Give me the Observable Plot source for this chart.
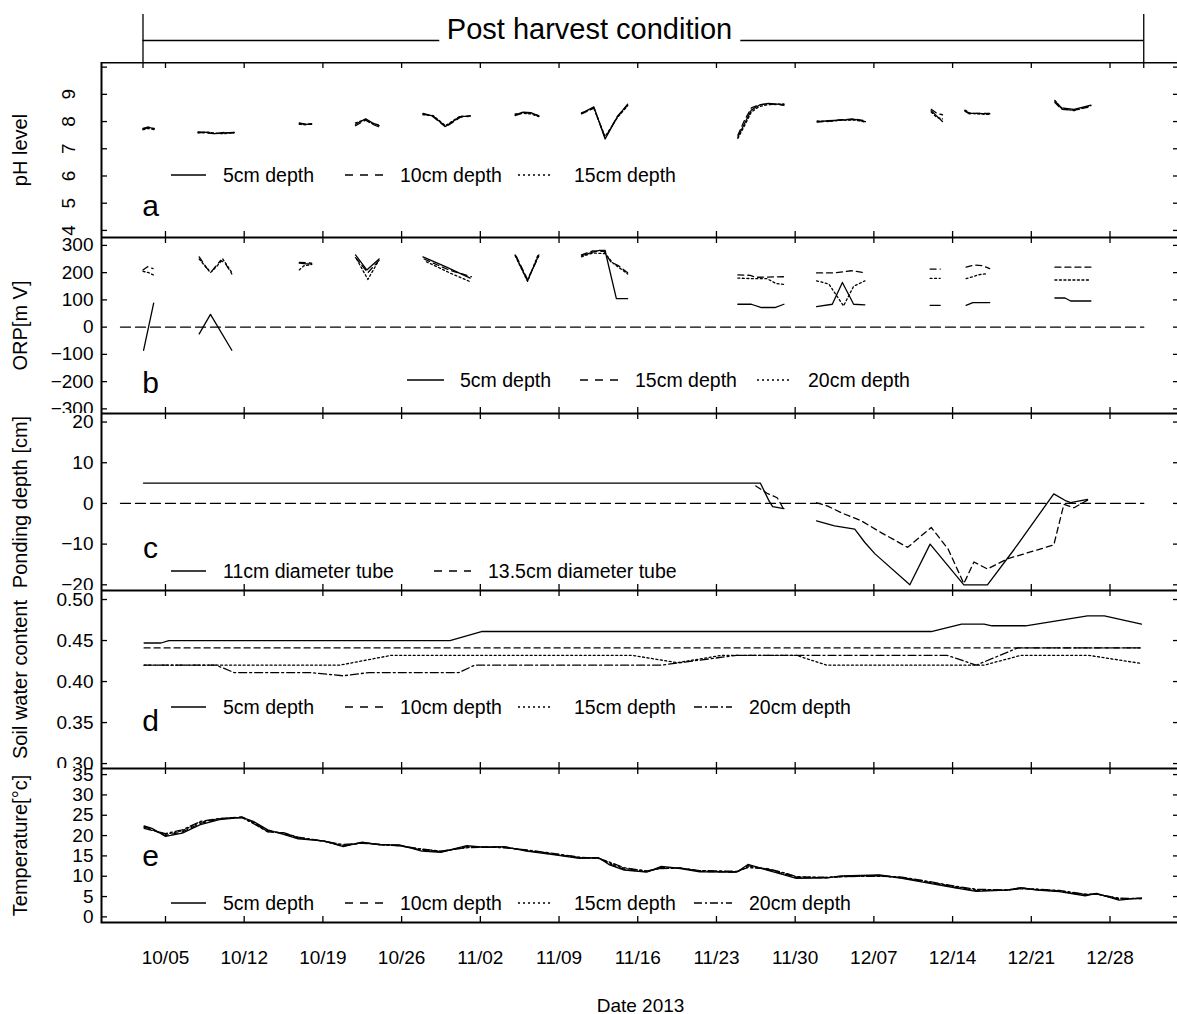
<!DOCTYPE html>
<html><head><meta charset="utf-8">
<script src="https://cdn.jsdelivr.net/npm/d3@7"></script>
<script src="https://cdn.jsdelivr.net/npm/@observablehq/plot@0.6"></script>
<style>
html,body{margin:0;padding:0;background:#fff;overflow:hidden;width:1177px;height:1014px}
#root{position:relative;width:1177px;height:1014px;font-family:"Liberation Sans",Arial,sans-serif}
.pane{position:absolute;left:0}
</style></head><body><div id="root"></div>
<script>
// ---------- DATA (day numbers: 1 = 2013-10-01, 32 = 2013-11-01, 62 = 2013-12-01) ----------
const xTickDates = ["2013-10-05","2013-10-12","2013-10-19","2013-10-26","2013-11-02","2013-11-09","2013-11-16","2013-11-23","2013-11-30","2013-12-07","2013-12-14","2013-12-21","2013-12-28"];
const postHarvestPeriod = ["2013-10-03","2013-12-31"];
const zeroDays = [1, 92];
const zeroVals = [0, 0];

// (a) pH
const phDays = [3.0,3.5,4.0,null, 7.9,8.6,9.4,10.2,11.1,null, 16.9,17.5,18.0,null, 21.9,22.8,23.4,24.0,null, 27.9,28.8,29.9,31.2,32.1,null, 36.1,36.8,37.5,38.2,null, 42.0,43.1,44.1,45.2,46.1,null, 55.9,56.5,57.1,57.8,58.6,60.0,null, 62.96,64.0,64.9,66.3,67.25,null, 73.1,73.6,74.1,null, 76.1,76.5,77.2,78.3,null, 84.1,84.7,85.8,87.3];
const ph5  = [7.75,7.8,7.72,null, 7.62,7.6,7.56,7.58,7.6,null, 7.95,7.9,7.92,null, 7.9,8.1,7.95,7.85,null, 8.3,8.2,7.82,8.18,8.2,null, 8.25,8.35,8.33,8.2,null, 8.3,8.54,7.36,8.18,8.64,null, 7.43,7.93,8.42,8.6,8.67,8.62,null, 8.0,8.03,8.05,8.08,8.0,null, 8.4,8.2,8.0,null, 8.4,8.3,8.3,8.28,null, 8.75,8.5,8.45,8.6];
const ph10 = [7.72,7.78,7.75,null, 7.6,7.58,7.55,7.6,7.58,null, 7.92,7.9,7.9,null, 7.85,8.05,7.9,7.8,null, 8.28,8.18,7.8,8.15,8.22,null, 8.22,8.32,8.3,8.22,null, 8.28,8.5,7.4,8.2,8.6,null, 7.5,8.05,8.5,8.62,8.65,8.6,null, 7.98,8.02,8.06,8.1,8.02,null, 8.45,8.3,8.25,null, 8.38,8.28,8.3,8.3,null, 8.7,8.45,8.42,8.55];
const ph15 = [7.7,7.75,7.7,null, 7.58,7.62,7.58,7.55,7.6,null, 7.9,7.88,7.93,null, 7.95,8.08,7.92,7.88,null, 8.25,8.22,7.85,8.2,8.18,null, 8.28,8.3,8.28,8.18,null, 8.32,8.48,7.45,8.15,8.58,null, 7.38,7.85,8.35,8.55,8.62,8.65,null, 8.02,8.0,8.04,8.06,7.98,null, 8.35,8.15,8.1,null, 8.42,8.32,8.28,8.26,null, 8.78,8.48,8.4,8.58];
const phTicks = [4,5,6,7,8,9,10];
const phLabels = [4,5,6,7,8,9];

// (b) ORP [mV]
const orp5Day = [3.05,3.95,null, 8.0,9.0,10.9,null, 16.9,17.5,18.0,null, 21.9,22.9,24.0,null, 27.9,30.0,32.1,null, 36.1,37.2,38.2,null, 42.0,43.0,43.6,44.1,44.2,45.1,46.1,null, 55.9,57.1,58.0,59.2,60.0,null, 62.9,64.3,65.2,66.2,67.2,null, 73.0,73.9,null, 76.2,76.8,78.3,null, 84.1,85.0,85.5,87.3];
const orp5    = [-85,88,null, -25,47,-85,null, 235,232,232,null, 265,210,250,null, 258,220,180,null, 265,170,265,null, 262,275,282,282,262,105,105,null, 84,84,72,72,84,null, 75,84,164,84,82,null, 80,80,null, 80,90,90,null, 107,107,96,96];
const orp15Day = [3.0,3.4,3.9,null, 8.0,8.7,9.1,9.9,10.3,10.9,null, 16.9,18.0,null, 21.9,23.0,24.0,null, 28.0,30.2,32.2,null, 36.2,37.2,38.2,null, 42.0,43.0,44.0,44.6,45.3,46.1,null, 55.9,57.0,57.5,60.0,null, 62.9,64.5,66.0,67.2,null, 73.0,73.9,null, 76.2,76.9,77.6,78.3,null, 84.1,87.3];
const orp15    = [210,222,215,null, 258,215,205,245,235,195,null, 238,235,null, 255,200,245,null, 250,210,185,null, 260,175,260,null, 265,280,278,240,225,200,null, 192,190,183,185,null, 199,199,207,200,null, 213,213,null, 220,228,226,215,null, 220,220];
const orp20Day = [3.0,3.5,4.0,null, 8.0,9.0,9.6,10.1,10.9,null, 16.9,17.3,18.0,null, 22.0,23.0,23.9,null, 28.2,30.5,32.2,null, 36.1,37.2,38.1,null, 42.0,43.0,44.1,44.8,46.1,null, 55.9,57.2,58.5,59.3,60.0,null, 62.9,64.0,65.3,66.2,67.2,null, 73.0,73.9,null, 76.2,76.8,77.3,78.0,null, 84.1,87.3];
const orp20    = [205,200,190,null, 250,200,225,250,200,null, 210,225,230,null, 250,175,240,null, 240,195,165,null, 262,168,262,null, 258,272,270,235,195,null, 180,178,178,160,157,null, 170,158,78,150,170,null, 179,179,null, 178,185,192,196,null, 173,173];
const orpTicks = [-300,-200,-100,0,100,200,300];

// (c) Ponding depth [cm]
const pond11Day = [3.04,57.9,58.7,59.0,60.0,null, 62.9,64.5,66.3,67.2,68.1,71.2,73.0,76.0,78.1,80.5,84.0,85.1,85.5,87.0];
const pond11    = [5,5,0.5,-0.8,-1.3,null, -4.3,-5.5,-6.3,-9.6,-12.4,-20,-10,-20,-20,-11.2,2.35,0.6,0.2,1.0];
const pond135Day = [57.5,58.5,59.4,60.0,null, 62.9,63.9,65.1,66.9,68.6,71.0,73.1,74.6,76.0,76.9,78.1,79.9,84.0,84.9,85.8,87.0];
const pond135    = [4.3,2.5,1.4,-1.5,null, 0.16,-0.65,-2.3,-4.3,-7.1,-10.8,-5.9,-11.2,-19.7,-14.4,-16.1,-13.6,-10.2,-0.2,-1.05,0.8];
const pondTicks = [-20,-10,0,10,20];

// (d) Soil water content
const swc5Day = [3.1,4.6,5.3,30.3,33.1,73.1,75.8,77.8,78.5,81.5,87.0,88.5,91.8];
const swc5    = [0.447,0.447,0.45,0.45,0.461,0.461,0.47,0.47,0.468,0.468,0.48,0.48,0.47];
const swc10Day = [3.1,91.8];
const swc10    = [0.441,0.441];
const swc15Day = [3.1,20.5,25.1,46.5,50.5,54.5,61.1,63.8,77.8,81.1,87.1,91.8];
const swc15    = [0.42,0.42,0.432,0.432,0.423,0.432,0.432,0.42,0.42,0.432,0.432,0.422];
const swc20Day = [3.1,9.5,11.1,17.8,20.8,23.1,31.1,32.5,49.1,55.8,74.5,77.1,80.8,91.8];
const swc20    = [0.42,0.42,0.411,0.411,0.407,0.411,0.411,0.42,0.42,0.432,0.432,0.42,0.441,0.441];
const swcTicks = [0.30,0.35,0.40,0.45,0.50];

// (e) Temperature [°C]
const tempDay = [3.1,3.8,5.0,6.5,8.1,9.8,11.8,12.8,14.1,15.5,16.8,19.1,20.8,22.5,24.1,25.8,27.8,29.5,31.8,33.5,35.1,37.1,39.8,41.8,43.5,44.5,45.8,47.8,49.1,50.8,52.5,55.8,56.8,58.5,60.1,61.1,63.8,65.1,68.5,70.5,73.1,75.1,77.1,79.8,81.1,82.5,84.5,86.8,87.8,89.8,91.8];
const temp5  = [22.4,21.8,19.8,20.6,22.7,23.9,24.5,23.5,21.4,20.3,19.2,18.7,17.3,18.4,17.7,17.7,16.2,15.9,17.5,17.1,17.3,16.2,15.2,14.4,14.6,12.8,11.5,11.0,12.4,11.9,11.1,11.0,12.9,11.5,10.3,9.5,9.6,10.1,10.3,9.5,8.2,7.2,6.3,6.6,7.2,6.6,6.2,5.2,5.8,4.1,4.7];
const temp10 = [22.2,21.5,20.0,20.9,23.0,24.1,24.6,23.3,21.2,20.5,19.4,18.6,17.4,18.3,17.8,17.6,16.4,16.0,17.3,17.2,17.2,16.3,15.3,14.5,14.5,13.0,11.7,11.1,12.2,12.0,11.2,11.0,12.6,11.7,10.5,9.7,9.6,10.0,10.2,9.6,8.4,7.3,6.5,6.6,7.1,6.7,6.3,5.4,5.7,4.3,4.6];
const temp15 = [22.0,21.4,20.3,21.2,23.3,24.2,24.5,23.1,21.0,20.6,19.5,18.6,17.6,18.2,17.8,17.5,16.6,16.1,17.1,17.2,17.1,16.4,15.4,14.6,14.4,13.3,11.9,11.2,12.0,12.0,11.3,11.1,12.3,11.8,10.7,9.8,9.7,9.9,10.1,9.7,8.5,7.5,6.6,6.6,7.0,6.8,6.4,5.5,5.6,4.5,4.5];
const temp20 = [21.8,21.3,20.5,21.4,23.5,24.2,24.4,23.0,20.9,20.7,19.6,18.6,17.8,18.1,17.8,17.5,16.7,16.2,17.0,17.2,17.0,16.5,15.5,14.7,14.4,13.5,12.1,11.3,11.9,12.0,11.4,11.2,12.1,11.9,10.8,9.9,9.7,9.9,10.0,9.8,8.6,7.6,6.8,6.6,6.9,6.8,6.5,5.6,5.6,4.6,4.5];
const tempTicks = [0,5,10,15,20,25,30,35];

// ---------- LAYOUT ----------
const FONT = '"Liberation Sans", Arial, sans-serif';
const SVGW = 1179, ML = 101, PLOTW = SVGW - ML;
const DAY0 = Date.UTC(2013, 8, 30);
const toDate = d => d == null ? null : new Date(DAY0 + d * 864e5);
const xDomain = [toDate(-0.69), toDate(95.18)];
const ticksX = xTickDates.map(s => new Date(s));
const DASH = {solid: null, dashed: "6,4", dotted: "2,2.5", dashdot: "8,3,2,3"};
const rows = (days, vals) => days.map((d, i) => ({date: toDate(d), v: vals[i]}));
const root = document.getElementById("root");

function panel(o) {
  const h = o.h, extra = o.extra || 0;
  const marks = [];
  if (o.zero) marks.push(Plot.line(rows(zeroDays, zeroVals), {x: "date", y: "v", stroke: "black", strokeWidth: 1.3, strokeDasharray: "10,5"}));
  for (const s of o.series) marks.push(Plot.line(s.data, {x: "date", y: "v", stroke: "black", strokeWidth: 1.3, strokeDasharray: DASH[s.dash]}));
  marks.push(
    Plot.frame({stroke: "black", strokeWidth: 2}),
    Plot.tickX(ticksX, {x: d => d, insetBottom: h - 6, stroke: "black", strokeWidth: 1.3}),
    Plot.tickX(ticksX, {x: d => d, insetTop: h - 6, stroke: "black", strokeWidth: 1.3}),
    Plot.tickY(o.yTicks, {y: d => d, insetRight: PLOTW - 6, stroke: "black", strokeWidth: 1.3}),
    Plot.tickY(o.yTicks, {y: d => d, insetLeft: PLOTW - 6, stroke: "black", strokeWidth: 1.3})
  );
  if (o.rotateLabels) {
    marks.push(Plot.text(o.yLabels, {y: d => d, text: d => String(d), frameAnchor: "left", dx: -33, rotate: -90, textAnchor: "middle", lineAnchor: "middle", fontSize: 19}));
  } else {
    marks.push(Plot.axisY(o.yLabels, {tickSize: 0, tickPadding: 8, tickFormat: o.fmt, label: null, fontSize: 19}));
  }
  marks.push(Plot.text([o.title], {text: d => d, frameAnchor: "left", dx: -81, dy: o.titleDy || 0, rotate: -90, textAnchor: "middle", lineAnchor: "middle", fontSize: 20}));
  marks.push(Plot.text([o.letter], {text: d => d, frameAnchor: "top-left", dx: 49, dy: o.letterDy, textAnchor: "middle", lineAnchor: "middle", fontSize: 30}));
  if (o.bottomAxis) {
    marks.push(Plot.axisX(ticksX, {tickSize: 0, tickPadding: 28, tickFormat: d3.utcFormat("%m/%d"), label: null, fontSize: 19}));
    marks.push(Plot.text(["Date 2013"], {text: d => d, frameAnchor: "bottom", dy: 83, textAnchor: "middle", lineAnchor: "middle", fontSize: 19}));
  }
  const chart = Plot.plot({
    width: SVGW, height: h + extra,
    marginLeft: ML, marginRight: 0, marginTop: 0, marginBottom: extra,
    x: {type: "utc", domain: xDomain, axis: o.bottomAxis ? undefined : null},
    y: {domain: o.yDomain, axis: o.rotateLabels ? null : undefined},
    style: {fontFamily: FONT, fontSize: "19px", overflow: "hidden", maxWidth: "none", background: "white", color: "black"},
    marks
  });
  const div = document.createElement("div");
  div.className = "pane"; div.style.top = o.top + "px";
  div.appendChild(chart);
  root.appendChild(div);
}

panel({top: 62, h: 175, yDomain: [3.74, 10.17], yTicks: phTicks, yLabels: phLabels, rotateLabels: true,
  title: "pH level", letter: "a", letterDy: 144,
  series: [{data: rows(phDays, ph5), dash: "solid"}, {data: rows(phDays, ph10), dash: "dashed"}, {data: rows(phDays, ph15), dash: "dotted"}]});
panel({top: 237, h: 176, yDomain: [-317, 329], yTicks: orpTicks, yLabels: orpTicks,
  title: "ORP[m V]", letter: "b", letterDy: 146, zero: true,
  series: [{data: rows(orp5Day, orp5), dash: "solid"}, {data: rows(orp15Day, orp15), dash: "dashed"}, {data: rows(orp20Day, orp20), dash: "dotted"}]});
panel({top: 413, h: 177, yDomain: [-21.4, 22.1], yTicks: pondTicks, yLabels: pondTicks,
  title: "Ponding depth [cm]", letter: "c", letterDy: 135, zero: true,
  series: [{data: rows(pond11Day, pond11), dash: "solid"}, {data: rows(pond135Day, pond135), dash: "dashed"}]});
panel({top: 590, h: 178, yDomain: [0.294, 0.511], yTicks: swcTicks, yLabels: swcTicks, fmt: d3.format(".2f"),
  title: "Soil water content", letter: "d", letterDy: 131,
  series: [{data: rows(swc5Day, swc5), dash: "solid"}, {data: rows(swc10Day, swc10), dash: "dashed"}, {data: rows(swc15Day, swc15), dash: "dotted"}, {data: rows(swc20Day, swc20), dash: "dashdot"}]});
panel({top: 768, h: 154, extra: 92, yDomain: [-1.38, 36.5], yTicks: tempTicks, yLabels: tempTicks,
  title: "Temperature[°c]", letter: "e", letterDy: 88, bottomAxis: true,
  series: [{data: rows(tempDay, temp5), dash: "solid"}, {data: rows(tempDay, temp10), dash: "dashed"}, {data: rows(tempDay, temp15), dash: "dotted"}, {data: rows(tempDay, temp20), dash: "dashdot"}]});

// header
const period = postHarvestPeriod.map(s => new Date(s));
const header = Plot.plot({
  width: SVGW, height: 56, marginLeft: ML, marginRight: 0, marginTop: 0, marginBottom: 0,
  x: {type: "utc", domain: xDomain, axis: null}, y: {domain: [-1, 1], axis: null},
  style: {fontFamily: FONT, background: "none", overflow: "visible", maxWidth: "none", color: "black"},
  marks: [
    Plot.ruleY([0], {x1: () => period[0], x2: () => period[1], stroke: "black", strokeWidth: 1.5}),
    Plot.ruleX(period, {x: d => d, insetTop: 2, stroke: "black", strokeWidth: 1.3}),
    Plot.text(["Post harvest condition"], {text: d => d, y: 0, frameAnchor: "middle", dx: -51, dy: -11, textAnchor: "middle", lineAnchor: "middle", fontSize: 29, fill: "black", stroke: "white", strokeWidth: 20, paintOrder: "stroke"})
  ]
});
const hd = document.createElement("div");
hd.className = "pane"; hd.style.top = "12px"; hd.style.zIndex = 5;
hd.appendChild(header); root.appendChild(hd);

// in-panel legends
function legend(y, items) {
  const ns = "http://www.w3.org/2000/svg";
  const svg = document.createElementNS(ns, "svg");
  svg.setAttribute("width", 1177); svg.setAttribute("height", 30);
  svg.style.cssText = `position:absolute;left:0;top:${y - 15}px;overflow:visible;z-index:4`;
  for (const [label, dash, x0, x1, tx] of items) {
    const ln = document.createElementNS(ns, "line");
    ln.setAttribute("x1", x0); ln.setAttribute("x2", x1); ln.setAttribute("y1", 15); ln.setAttribute("y2", 15);
    ln.setAttribute("stroke", "black"); ln.setAttribute("stroke-width", 1.5);
    const da = {dashed: "8,7", dotted: "2,3", dashdot: "8,3,2,3"}[dash];
    if (da) ln.setAttribute("stroke-dasharray", da);
    svg.appendChild(ln);
    const t = document.createElementNS(ns, "text");
    t.setAttribute("x", tx); t.setAttribute("y", 15); t.setAttribute("dominant-baseline", "central");
    t.setAttribute("font-family", FONT); t.setAttribute("font-size", 19.5);
    t.textContent = label; svg.appendChild(t);
  }
  root.appendChild(svg);
}
const depth3 = [["5cm depth","solid",171,206,223],["10cm depth","dashed",345,383,400],["15cm depth","dotted",518,553,574]];
legend(175, depth3);
legend(380, [["5cm depth","solid",407,444,460],["15cm depth","dashed",580,618,635],["20cm depth","dotted",757,791,808]]);
legend(571, [["11cm diameter tube","solid",171,206,223],["13.5cm diameter tube","dashed",434,471,488]]);
legend(707, [...depth3, ["20cm depth","dashdot",694,732,749]]);
legend(903, [...depth3, ["20cm depth","dashdot",694,732,749]]);
</script></body></html>
